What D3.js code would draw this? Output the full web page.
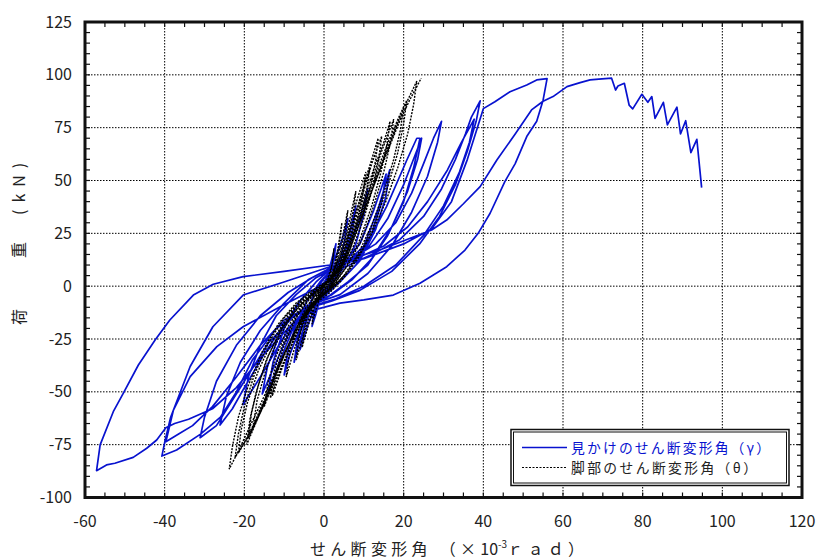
<!DOCTYPE html>
<html>
<head>
<meta charset="utf-8">
<script src="https://cdn.jsdelivr.net/npm/d3@7"></script>
<style>
  body { margin: 0; background: #fff; }
  text { font-family: "Noto Sans CJK JP", "Noto Sans", sans-serif; }
</style>
</head>
<body>
<svg id="chart" width="820" height="559"></svg>
<script>
// tick labels
const xTicks = [-60, -40, -20, 0, 20, 40, 60, 80, 100, 120];
const yTicks = [-100, -75, -50, -25, 0, 25, 50, 75, 100, 125];
const seriesNames = ["見かけのせん断変形角（γ）", "脚部のせん断変形角（θ）"];

// 見かけのせん断変形角 γ  [x10^-3 rad, kN]
const gamma = [
  [0,0],[1,6],[2,13],[3,20],[2.6,14],[1.5,6],[0,0],[-1,-6],[-2,-13],[-3,-19],[-2.5,-13],[-1.5,-6],[0,1],
  [1.5,8],[3,14],[4.5,22],[6,32],[5.2,22],[4,12],[2,3],[0,-3],[-2,-9],[-4,-18],[-6,-30],[-5.2,-20],[-4,-11],[-2,-2],[0,4],
  [3,10],[5.5,18],[8,38],[7.2,27],[5.5,15],[2.5,3],[0,-4],[-3,-10],[-5.5,-22],[-7.5,-36],[-6.6,-25],[-4.5,-12],[-1.5,0],[1,6],
  [3,10],[6,17],[9,32],[11,46],[10,34],[8,20],[5,9],[2,1],[0,-4],[-3,-9],[-6,-20],[-8.5,-32],[-10,-42],[-9,-30],[-7,-18],[-4,-6],[-1,2],[1,6],
  [5,11],[9,20],[12.5,36],[15.6,53],[14.5,40],[12,25],[8,10],[4,2],[0,-4],[-4,-10],[-8,-21],[-11,-35],[-14,-50],[-12.8,-36],[-10,-20],[-6,-7],[-2,2],[1,7],
  [5,10],[10,19],[13.5,36],[16.5,55],[15.5,42],[13,27],[9,12],[4,2],[0,-5],[-5,-11],[-9,-23],[-12.5,-38],[-15.5,-51],[-14.2,-38],[-11,-22],[-6.5,-8],[-2,2],[1,7],
  [5,11],[9,15.6],[13,28],[15.7,37.6],[20.8,59.7],[23.3,70],[24.1,70],[22.5,56],[20,40],[16,24],[11,10],[6,2],[1,-5],[-4,-10],[-8,-18],[-12,-30],[-16,-43],[-20.3,-56],[-19,-43],[-16,-28],[-12,-14],[-7,-4],[-2,4],[1,7],
  [6,12],[11,18],[16,32],[20,48],[24.5,70],[23.5,60],[21,45],[17,28],[12,13],[7,3],[2,-4],[-4,-9],[-10,-18],[-15,-32],[-20.3,-49],[-23,-58],[-26.1,-65.7],[-24.5,-52],[-21,-36],[-16,-21],[-10,-8],[-4,3],[1,8],
  [7,13],[13,20],[18,30],[22,44],[25,58],[27.5,70],[29.5,78],[28.5,68],[26,52],[22,35],[17,19],[11,6],[4,-4],[-2,-8],[-8,-15],[-14,-27],[-20,-45],[-24,-57],[-27,-66],[-31.1,-71.7],[-30,-62],[-27,-45],[-22,-28],[-16,-14],[-9,-3],[-3,4],[2,9],
  [8,13],[15,19],[21,28],[26,40],[31,55],[34.5,68],[37.7,79],[36.5,68],[34,54],[30,38],[25,24],[18,10],[10,0],[3,-6],[-4,-10],[-10,-16],[-16,-28],[-22,-43],[-28,-57],[-33,-66],[-36.5,-70],[-39.7,-73.6],[-37.8,-58.6],[-33.6,-42.8],[-26.9,-28.6],[-20.3,-19.2],[-11,-9.7],[-1,0],[3,7],
  [12,15],[19,22],[25,33],[29.5,46],[33,60],[35.5,72],[37,80],[39.2,87.7],[38.2,78],[36,64],[33,48],[29,33],[24,20],[17,7],[9,-2],[2,-7],[-5,-11],[-12,-20],[-18,-35],[-22,-50],[-26,-62],[-31,-70],[-37,-77.5],[-40.7,-80.4],[-40,-74],[-38.5,-62],[-33.6,-38],[-27.9,-19.2],[-20.3,-4.2],[-11,1.4],[1.5,9.2],
  [10,13],[20,20],[27,27],[32,40],[36,60],[38.5,75],[40,84],[42.9,87.3],[46.7,92],[50.9,95.2],[53.4,97.6],[56,98.2],
  [55,88],[53.4,78],[50.9,70.8],[48,58],[45.4,49.5],[41.7,34.5],[38.7,25],[35.4,17.1],[30.8,9.2],[24.1,1.4],[17.4,-4.2],[10,-6.5],[4,-8],
  [-2,-11],[-8,-18],[-15,-32],[-22,-48],[-28,-58],[-34,-63],[-37.5,-65],[-39.7,-67],[-42,-72.8],[-44.5,-76.7],[-47.9,-81],[-52.5,-83.8],[-54.6,-84.6],[-57.1,-87.3],
  [-56.2,-75.1],[-52.9,-59.4],[-50.4,-50.7],[-46.6,-37.3],[-42.4,-25.5],[-38.7,-16],[-32.8,-4.2],[-27.8,0.9],[-20.3,4.5],[-10,7],[1.5,10],
  [14,17.1],[27,26.6],[30.8,31.3],[35,39],[39.2,47.1],[43.4,59.7],[48,72],[52.1,83.4],[55,87.5],[57.5,89.7],[61,94.4],[64.3,96.3],[66.8,97.6],[69,98],[72.2,98.4],
  [73.2,92.8],[73.8,94.7],[75.4,96],[76.6,85.7],[77.5,83.9],[79.8,90.8],[81.3,87],[82.3,89.7],[83.1,79.4],[85.2,87],[86.2,76.3],[88.6,84.7],[89.5,72],[90.8,78.3],[92.1,63.2],[93.6,69.5],[94.8,46.6]
];

// 脚部のせん断変形角 θ
const theta = [
  [0,0],[1,4],[2,10],[2.5,18],[2.2,12],[1.5,5],[0,-1],[-1,-5],[-2,-11],[-3,-18],[-2.7,-12],[-2,-6],[-0.5,-1],[1,2],
  [2.5,8],[3.5,18],[4.5,30],[4,22],[3,12],[1.5,3],[-1,-4],[-2.5,-10],[-4,-19],[-5.5,-29],[-5,-21],[-4,-12],[-2,-5],[0,0],[1.5,3],
  [3,10],[4.5,22],[6,36],[5.4,27],[4,15],[2,4],[-1,-4],[-3,-11],[-5,-22],[-7,-35],[-6.4,-26],[-5,-15],[-2.5,-5],[0.5,1],[2,4],
  [3,8],[5,20],[6.5,32],[8,45],[7.4,36],[6,24],[4,11],[2,3],[-1,-4],[-3,-9],[-5,-17],[-7.5,-30],[-9.5,-43],[-8.8,-33],[-7,-20],[-4.5,-10],[-2,-4],[0.5,1],[2,4],
  [3.5,9],[5.5,22],[7.5,36],[9,45],[10.5,54],[9.8,44],[8.5,32],[6.5,19],[4,8],[1.5,1],[-1.5,-5],[-4,-11],[-7,-22],[-10,-36],[-13,-52],[-12,-40],[-10,-28],[-7,-15],[-4,-7],[-1,-1],[2,4],
  [4,10],[6,23],[8.5,38],[11.5,56],[10.7,45],[9,32],[6.5,17],[3.5,5],[0.5,-3],[-3,-9],[-6,-19],[-9.5,-34],[-13.5,-53],[-12.6,-41],[-10.5,-28],[-7.5,-16],[-4,-6],[-0.5,0],[2.5,5],
  [4,10],[6,22],[8.5,38],[11,54],[13.6,70],[13,60],[11.5,46],[9,30],[6,15],[3,4],[0,-3],[-3,-8],[-6,-16],[-9,-28],[-12,-42],[-15,-57],[-14,-45],[-12,-33],[-9,-19],[-5.5,-9],[-2,-3],[1,2],[3,6],
  [5,14],[7,26],[9.5,42],[12,58],[14.5,71],[13.8,61],[12.5,48],[10,32],[7,17],[4,6],[1,-2],[-2,-7],[-5,-14],[-8,-24],[-11,-36],[-14,-50],[-16,-58],[-17.8,-66.5],[-16.8,-54],[-14.8,-41],[-12,-27],[-8.5,-15],[-5,-7],[-1.5,-1],[2,4],
  [4.5,11],[7,24],[10,42],[13,58],[15,68],[16.6,78],[15.8,67],[14.3,54],[12,38],[9,22],[5.5,9],[2.5,1],[-1,-5],[-4,-10],[-7,-20],[-10,-32],[-13,-46],[-16,-60],[-19,-72],[-18.2,-60],[-16.5,-47],[-14,-33],[-10.5,-20],[-6.5,-10],[-3,-4],[1,2],
  [4,8],[6.5,20],[9,34],[12,50],[14.5,64],[17.5,79],[16.7,68],[15,54],[12.5,38],[9.5,22],[6,10],[3,2],[0,-4],[-3,-9],[-6.5,-18],[-10,-32],[-13.5,-48],[-16.5,-62],[-19.4,-75],[-18.6,-63],[-17,-50],[-14.5,-35],[-11,-21],[-7,-10],[-3.5,-4],[0,1],[2.5,5],
  [5,12],[8,27],[11,43],[14,58],[16.5,70],[18.8,80],[20.8,88],[20,77],[18.5,63],[16,47],[13,31],[9.5,17],[6,7],[3,1],[0,-4],[-3.5,-10],[-7,-21],[-10.5,-35],[-14,-50],[-17,-63],[-20,-74],[-22.3,-81],[-21.5,-70],[-20,-57],[-17.5,-42],[-14,-27],[-10,-15],[-6,-7],[-2.5,-2],[1,2],[3,6],
  [5,12],[8.5,28],[12,45],[15,60],[17.5,72],[20,85],[19.2,74],[17.5,60],[15,44],[12,29],[8.5,15],[5,5],[1.5,-2],[-2,-7],[-5.5,-17],[-9,-31],[-12.5,-46],[-16,-60],[-19,-71],[-21.5,-79],[-20.8,-68],[-19.2,-55],[-16.5,-40],[-13,-26],[-9,-14],[-5,-6],[-1.5,-1],[2,3],
  [5.5,13],[9,30],[12,46],[15,61],[18,75],[20.5,86],[23.3,97],[22.5,86],[21,72],[18.5,56],[15.5,40],[12,25],[8.5,13],[5,4],[1.5,-3],[-2,-8],[-5.5,-16],[-9,-28],[-12.5,-42],[-16,-56],[-19,-68],[-21.5,-78],[-23.8,-86.6],[-23,-76],[-21.5,-62],[-19,-47],[-15.5,-31],[-11.5,-18],[-7,-8],[-3,-2],[0.5,2],[3,6],
  [6,15],[9.5,32],[13,50],[16,64],[19,78],[21.5,88],[24.4,98.4]
];

const svg = d3.select("#chart");
const pL = 85, pR = 802, pT = 22, pB = 497.5;
const x = d3.scaleLinear().domain([-60, 120]).range([pL, pR]);
const y = d3.scaleLinear().domain([-100, 125]).range([pB, pT]);
const blue = "#0812cf";

// dotted grid
svg.append("g").selectAll("line").data(xTicks.slice(1, -1)).join("line")
  .attr("x1", d => x(d)).attr("x2", d => x(d)).attr("y1", pT).attr("y2", pB)
  .attr("stroke", "#000").attr("stroke-width", 1).attr("stroke-dasharray", "1.5,1.5");
svg.append("g").selectAll("line").data(yTicks.slice(1, -1)).join("line")
  .attr("y1", d => y(d)).attr("y2", d => y(d)).attr("x1", pL).attr("x2", pR)
  .attr("stroke", "#000").attr("stroke-width", 1).attr("stroke-dasharray", "1.5,1.5");

// inward ticks on all four sides, every 5
const tk = 5;
const xMinor = x.ticks(36), yMinor = y.ticks(45);
const ticks = svg.append("g").attr("stroke", "#111").attr("stroke-width", 1.2);
xMinor.forEach(v => {
  ticks.append("line").attr("x1", x(v)).attr("x2", x(v)).attr("y1", pB).attr("y2", pB - tk);
  ticks.append("line").attr("x1", x(v)).attr("x2", x(v)).attr("y1", pT).attr("y2", pT + tk);
});
yMinor.forEach(v => {
  ticks.append("line").attr("y1", y(v)).attr("y2", y(v)).attr("x1", pL).attr("x2", pL + tk);
  ticks.append("line").attr("y1", y(v)).attr("y2", y(v)).attr("x1", pR).attr("x2", pR - tk);
});

// curves
const line = d3.line().x(d => x(d[0])).y(d => y(d[1]));
svg.append("path").datum(gamma).attr("d", line)
  .attr("fill", "none").attr("stroke", blue).attr("stroke-width", 1.7).attr("stroke-linejoin", "round");
svg.append("path").datum(theta).attr("d", line)
  .attr("fill", "none").attr("stroke", "#000").attr("stroke-width", 1.4).attr("stroke-dasharray", "2,1.3");

// frame
svg.append("rect").attr("x", pL).attr("y", pT).attr("width", pR - pL).attr("height", pB - pT)
  .attr("fill", "none").attr("stroke", "#111").attr("stroke-width", 3);

// tick labels
svg.append("g").selectAll("text").data(xTicks).join("text")
  .attr("x", d => x(d)).attr("y", 527).attr("text-anchor", "middle")
  .attr("font-size", 16).attr("fill", "#222").text(d => d);
svg.append("g").selectAll("text").data(yTicks).join("text")
  .attr("x", 72).attr("y", d => y(d) + 5.5).attr("text-anchor", "end")
  .attr("font-size", 16).attr("fill", "#222").text(d => d);

// x title
const xt = svg.append("text").attr("x", 310).attr("y", 555).attr("font-size", 16).attr("fill", "#222");
xt.append("tspan").attr("letter-spacing", 4.3).text("せん断変形角 （×");
xt.append("tspan").text("10");
xt.append("tspan").attr("font-size", 10).attr("dy", -7).text("-3");
xt.append("tspan").attr("dy", 7).attr("letter-spacing", 4.3).text("ｒａｄ）");

// y title
const yt = svg.append("g").attr("transform", "translate(19,0) rotate(-90)")
  .attr("font-size", 16).attr("fill", "#222");
yt.append("text").attr("x", -317).attr("y", 6).attr("text-anchor", "middle").text("荷");
yt.append("text").attr("x", -250).attr("y", 6).attr("text-anchor", "middle").text("重");
yt.append("text").attr("x", -215).attr("y", 6).attr("letter-spacing", 7).text("(kN)");

// legend
const lg = svg.append("g");
lg.append("rect").attr("x", 511).attr("y", 429.5).attr("width", 278).attr("height", 56)
  .attr("fill", "#fff").attr("stroke", "#111").attr("stroke-width", 1.5);
lg.append("rect").attr("x", 513.5).attr("y", 432).attr("width", 273).attr("height", 51)
  .attr("fill", "none").attr("stroke", "#111").attr("stroke-width", 1);
const rows = [{c: blue, dash: null, y: 447.5}, {c: "#000", dash: "2,1.5", y: 467.5}];
rows.forEach((r, i) => {
  lg.append("line").attr("x1", 522).attr("x2", 567).attr("y1", r.y).attr("y2", r.y)
    .attr("stroke", r.c).attr("stroke-width", i ? 1.2 : 1.5).attr("stroke-dasharray", r.dash);
  lg.append("text").attr("x", 571).attr("y", r.y + 5.5).attr("font-size", 13.8).attr("fill", i ? "#222" : blue)
    .attr("textLength", i ? 186 : 199).attr("lengthAdjust", "spacing").text(seriesNames[i]);
});
</script>
</body>
</html>
